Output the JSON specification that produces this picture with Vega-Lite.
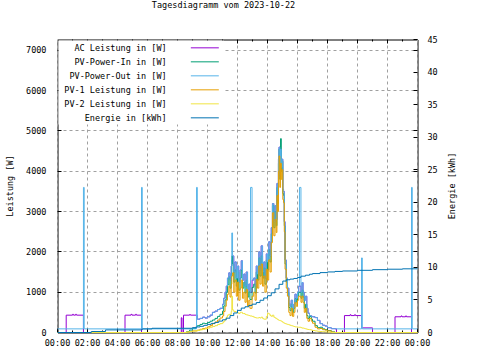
{
  "$schema": "https://vega.github.io/schema/vega-lite/v6.json",
  "width": 360,
  "height": 293,
  "autosize": {"type": "none"},
  "padding": {"left": 57.5, "top": 39.5, "right": 62.5, "bottom": 27.5},
  "background": "white",
  "title": {"text": "Tagesdiagramm vom 2023-10-22", "font": "DejaVu Sans Mono", "fontSize": 8.5, "fontWeight": "normal", "color": "black", "anchor": "middle", "frame": "group", "dx": -14, "offset": 22, "baseline": "middle"},
  "config": {
    "view": {"stroke": "black", "strokeWidth": 1},
    "font": "DejaVu Sans Mono",
    "axis": {"labelFont": "DejaVu Sans Mono", "labelFontSize": 8.5, "labelColor": "black", "titleFont": "DejaVu Sans Mono", "titleFontSize": 8.5, "titleFontWeight": "normal", "titleColor": "black", "domain": false, "tickColor": "black", "tickWidth": 1, "gridColor": "#a0a0a0", "gridDash": [3, 3], "gridWidth": 1, "translate": 0, "tickSize": -4, "labelOverlap": false, "labelFlush": false, "labelBound": false},
    "legend": {"orient": "none", "legendX": 1, "legendY": 1, "symbolType": "M-3,0H3", "symbolSize": 87, "symbolStrokeWidth": 1, "symbolOffset": 139, "labelAlign": "right", "labelOffset": -43.7, "labelFont": "DejaVu Sans Mono", "labelFontSize": 8.5, "labelColor": "black", "rowPadding": 4, "padding": 1.83, "fillColor": "white", "labelLimit": 0},
    "line": {"strokeWidth": 1, "interpolate": "step-after", "clip": true}
  },
  "data": {"values": [
    {"t": 0, "ac": 0, "pin": 0, "pout": 90, "pv1": 0, "pv2": 0, "e": 0},
    {"t": 0.58, "ac": 430},
    {"t": 1.0, "ac": 450},
    {"t": 1.07, "ac": 430},
    {"t": 1.2, "ac": 450},
    {"t": 1.27, "ac": 430},
    {"t": 1.73, "ac": 0, "pout": 3600},
    {"t": 1.78, "pout": 90},
    {"t": 2.25, "e": 0.15},
    {"t": 3.2, "e": 0.4},
    {"t": 4.5, "ac": 430},
    {"t": 4.9, "ac": 450},
    {"t": 4.97, "ac": 430},
    {"t": 5.2, "ac": 450},
    {"t": 5.27, "ac": 430},
    {"t": 5.6, "ac": 0, "pout": 3600},
    {"t": 5.65, "pout": 90, "e": 0.55},
    {"t": 6.3, "e": 0.65},
    {"t": 8.25, "ac": 365},
    {"t": 8.3, "ac": 0},
    {"t": 8.4, "ac": 430},
    {"t": 8.6, "pin": 20, "pv1": 10, "pv2": 10},
    {"t": 8.8, "pin": 60, "pv1": 25, "pv2": 25, "ac": 445},
    {"t": 8.87, "ac": 430},
    {"t": 9.0, "pin": 100, "pv1": 40, "pv2": 35, "e": 0.75},
    {"t": 9.25, "pin": 150, "e": 0.85},
    {"t": 9.27, "pout": 3600},
    {"t": 9.32, "ac": 330, "pout": 330, "pin": 170, "pv1": 60, "pv2": 50},
    {"t": 9.5, "ac": 350, "pout": 350, "pin": 200, "pv1": 80, "pv2": 65, "e": 0.95},
    {"t": 9.67, "ac": 380, "pout": 380, "pin": 230, "pv1": 100, "pv2": 80},
    {"t": 9.75, "e": 1.1},
    {"t": 9.83, "ac": 360, "pout": 360, "pin": 220, "pv1": 110, "pv2": 90},
    {"t": 10.0, "ac": 390, "pout": 390, "pin": 250, "pv1": 140, "pv2": 110, "e": 1.25},
    {"t": 10.17, "ac": 430, "pout": 430, "pin": 280, "pv1": 170, "pv2": 130},
    {"t": 10.25, "e": 1.4},
    {"t": 10.33, "ac": 500, "pout": 500, "pin": 310, "pv1": 220, "pv2": 150},
    {"t": 10.5, "ac": 530, "pout": 530, "pin": 350, "pv1": 260, "pv2": 170, "e": 1.55},
    {"t": 10.67, "ac": 570, "pout": 570, "pin": 400, "pv1": 310, "pv2": 200},
    {"t": 10.75, "e": 1.75},
    {"t": 10.83, "ac": 600, "pout": 600, "pin": 450, "pv1": 360, "pv2": 220},
    {"t": 11.0, "ac": 700, "pout": 700, "pin": 530, "pv1": 410, "pv2": 240, "e": 1.95},
    {"t": 11.08, "ac": 850, "pout": 850, "pin": 660, "pv1": 520, "pv2": 280},
    {"t": 11.17, "ac": 1000, "pout": 1000, "pin": 810, "pv1": 650, "pv2": 330},
    {"t": 11.25, "ac": 1150, "pout": 1150, "pin": 1000, "pv1": 800, "pv2": 380, "e": 2.2},
    {"t": 11.33, "ac": 1350, "pout": 1350, "pin": 1180, "pv1": 950, "pv2": 430},
    {"t": 11.42, "ac": 1480, "pout": 1480, "pin": 1380, "pv1": 1150, "pv2": 450},
    {"t": 11.5, "ac": 1300, "pout": 1300, "pin": 1100, "pv1": 880, "pv2": 450, "e": 2.6},
    {"t": 11.58, "ac": 1650, "pout": 1650, "pin": 1450, "pv1": 1200, "pv2": 520},
    {"t": 11.62, "ac": 1800, "pout": 2470, "pin": 1900, "pv1": 1400, "pv2": 900},
    {"t": 11.67, "ac": 1900, "pout": 1900, "pin": 1700, "pv1": 1480, "pv2": 560},
    {"t": 11.75, "ac": 1500, "pout": 1500, "pin": 1250, "pv1": 1000, "pv2": 520, "e": 3.0},
    {"t": 11.83, "ac": 1750, "pout": 1750, "pin": 1550, "pv1": 1300, "pv2": 520},
    {"t": 11.92, "ac": 1350, "pout": 1350, "pin": 1150, "pv1": 900, "pv2": 500},
    {"t": 12.0, "ac": 1650, "pout": 1650, "pin": 1500, "pv1": 1250, "pv2": 490, "e": 3.4},
    {"t": 12.08, "ac": 1250, "pout": 1250, "pin": 1050, "pv1": 800, "pv2": 470},
    {"t": 12.17, "ac": 1550, "pout": 1550, "pin": 1350, "pv1": 1100, "pv2": 500},
    {"t": 12.25, "ac": 1780, "pout": 1780, "pin": 1550, "pv1": 1300, "pv2": 500, "e": 3.75},
    {"t": 12.33, "ac": 1300, "pout": 1300, "pin": 1100, "pv1": 850, "pv2": 470},
    {"t": 12.42, "ac": 1450, "pout": 1450, "pin": 1250, "pv1": 1000, "pv2": 470},
    {"t": 12.5, "ac": 1150, "pout": 1150, "pin": 980, "pv1": 750, "pv2": 450, "e": 3.95},
    {"t": 12.58, "ac": 1500, "pout": 1500, "pin": 1300, "pv1": 1070, "pv2": 440},
    {"t": 12.67, "ac": 1050, "pout": 1050, "pin": 880, "pv1": 650, "pv2": 430},
    {"t": 12.75, "ac": 1200, "pout": 1200, "pin": 1020, "pv1": 800, "pv2": 420, "e": 4.15},
    {"t": 12.83, "ac": 1000, "pout": 1000, "pin": 820, "pv1": 600, "pv2": 410},
    {"t": 12.87, "pout": 3600},
    {"t": 12.97, "ac": 1300, "pout": 1300, "pin": 1120, "pv1": 900, "pv2": 400, "e": 4.35},
    {"t": 13.08, "ac": 1350, "pout": 1350, "pin": 1200, "pv1": 1000, "pv2": 380},
    {"t": 13.17, "ac": 1150, "pout": 1150, "pin": 980, "pv1": 800, "pv2": 370},
    {"t": 13.25, "ac": 1650, "pout": 1650, "pin": 1500, "pv1": 1320, "pv2": 360, "e": 4.6},
    {"t": 13.33, "ac": 1450, "pout": 1450, "pin": 1300, "pv1": 1100, "pv2": 360},
    {"t": 13.42, "ac": 2000, "pout": 2000, "pin": 1850, "pv1": 1650, "pv2": 370},
    {"t": 13.5, "ac": 1550, "pout": 1550, "pin": 1400, "pv1": 1200, "pv2": 360, "e": 4.95},
    {"t": 13.58, "ac": 2150, "pout": 2150, "pin": 1900, "pv1": 1700, "pv2": 380},
    {"t": 13.67, "ac": 1500, "pout": 1500, "pin": 1350, "pv1": 1150, "pv2": 350},
    {"t": 13.75, "ac": 1750, "pout": 1750, "pin": 1600, "pv1": 1400, "pv2": 330, "e": 5.3},
    {"t": 13.83, "ac": 1350, "pout": 1350, "pin": 1200, "pv1": 1000, "pv2": 330},
    {"t": 13.92, "ac": 1950, "pout": 1950, "pin": 1800, "pv1": 1570, "pv2": 400},
    {"t": 14.0, "ac": 1750, "pout": 1750, "pin": 1550, "pv1": 1300, "pv2": 480, "e": 5.65},
    {"t": 14.08, "ac": 2250, "pout": 2250, "pin": 2050, "pv1": 1800, "pv2": 460},
    {"t": 14.17, "ac": 1900, "pout": 1900, "pin": 1750, "pv1": 1500, "pv2": 420},
    {"t": 14.25, "ac": 2600, "pout": 2600, "pin": 2450, "pv1": 2230, "pv2": 400, "e": 6.1},
    {"t": 14.33, "ac": 3200, "pout": 3200, "pin": 3150, "pv1": 2970, "pv2": 430},
    {"t": 14.42, "ac": 2750, "pout": 2750, "pin": 2600, "pv1": 2400, "pv2": 380},
    {"t": 14.5, "ac": 3150, "pout": 3150, "pin": 3000, "pv1": 2800, "pv2": 360, "e": 6.7},
    {"t": 14.58, "ac": 2800, "pout": 2800, "pin": 2650, "pv1": 2480, "pv2": 350},
    {"t": 14.63, "ac": 3700, "pout": 3700, "pin": 3600, "pv1": 3400, "pv2": 330},
    {"t": 14.68, "ac": 3300, "pout": 3300, "pin": 3200, "pv1": 3000, "pv2": 320},
    {"t": 14.73, "ac": 4300, "pout": 4300, "pin": 4200, "pv1": 4000, "pv2": 310},
    {"t": 14.77, "ac": 4600, "pout": 4600, "pin": 4550, "pv1": 4380, "pv2": 300, "e": 7.4},
    {"t": 14.82, "ac": 3900, "pout": 3900, "pin": 3800, "pv1": 3600, "pv2": 300},
    {"t": 14.87, "ac": 4550, "pout": 4550, "pin": 4810, "pv1": 4200, "pv2": 290},
    {"t": 14.92, "ac": 4100, "pout": 4100, "pin": 4000, "pv1": 3800, "pv2": 280},
    {"t": 14.97, "ac": 4300, "pout": 4300, "pin": 4250, "pv1": 4040, "pv2": 270},
    {"t": 15.02, "ac": 3550, "pout": 3550, "pin": 3450, "pv1": 3300, "pv2": 250, "e": 7.9},
    {"t": 15.07, "ac": 3500, "pout": 3500, "pin": 3400, "pv1": 3220, "pv2": 240},
    {"t": 15.12, "ac": 2750, "pout": 2750, "pin": 2650, "pv1": 2500, "pv2": 230},
    {"t": 15.17, "ac": 1800, "pout": 1800, "pin": 1700, "pv1": 1570, "pv2": 220},
    {"t": 15.25, "ac": 1350, "pout": 1350, "pin": 1250, "pv1": 1100, "pv2": 210, "e": 8.1},
    {"t": 15.33, "ac": 1100, "pout": 1100, "pin": 1000, "pv1": 900, "pv2": 200},
    {"t": 15.42, "ac": 720, "pout": 720, "pin": 620, "pv1": 500, "pv2": 190},
    {"t": 15.5, "ac": 650, "pout": 650, "pin": 540, "pv1": 420, "pv2": 180, "e": 8.2},
    {"t": 15.58, "ac": 800, "pout": 800, "pin": 700, "pv1": 600, "pv2": 170},
    {"t": 15.67, "ac": 600, "pout": 600, "pin": 500, "pv1": 400, "pv2": 160},
    {"t": 15.75, "ac": 700, "pout": 700, "pin": 600, "pv1": 500, "pv2": 150, "e": 8.3},
    {"t": 15.83, "ac": 950, "pout": 950, "pin": 840, "pv1": 740, "pv2": 140},
    {"t": 15.92, "ac": 850, "pout": 850, "pin": 750, "pv1": 650, "pv2": 140},
    {"t": 16.0, "ac": 1000, "pout": 1000, "pin": 900, "pv1": 800, "pv2": 130, "e": 8.45},
    {"t": 16.08, "ac": 1150, "pout": 1150, "pin": 1000, "pv1": 900, "pv2": 130},
    {"t": 16.13, "pout": 3600},
    {"t": 16.23, "ac": 1000, "pout": 1000, "pin": 850, "pv1": 750, "pv2": 120, "e": 8.65},
    {"t": 16.3, "ac": 1240, "pout": 1240, "pin": 1050, "pv1": 900, "pv2": 110},
    {"t": 16.37, "ac": 1000, "pout": 1000, "pin": 880, "pv1": 740, "pv2": 110},
    {"t": 16.45, "ac": 800, "pout": 800, "pin": 600, "pv1": 500, "pv2": 100},
    {"t": 16.53, "ac": 900, "pout": 900, "pin": 700, "pv1": 600, "pv2": 90, "e": 8.8},
    {"t": 16.62, "ac": 600, "pout": 600, "pin": 420, "pv1": 350, "pv2": 80},
    {"t": 16.7, "ac": 480, "pout": 480, "pin": 350, "pv1": 280, "pv2": 75},
    {"t": 16.8, "ac": 420, "pout": 420, "pin": 400, "pv1": 350, "pv2": 70, "e": 8.95},
    {"t": 16.92, "ac": 400, "pout": 400, "pin": 330, "pv1": 280, "pv2": 60},
    {"t": 17.0, "ac": 390, "pout": 390, "pin": 280, "pv1": 230, "pv2": 50, "e": 9.05},
    {"t": 17.17, "ac": 370, "pout": 370, "pin": 170, "pv1": 130, "pv2": 40},
    {"t": 17.33, "ac": 300, "pout": 300, "pin": 120, "pv1": 90, "pv2": 30},
    {"t": 17.5, "ac": 220, "pout": 220, "pin": 130, "pv1": 100, "pv2": 25, "e": 9.2},
    {"t": 17.67, "ac": 180, "pout": 180, "pin": 90, "pv1": 70, "pv2": 20},
    {"t": 17.83, "ac": 160, "pout": 160, "pin": 70, "pv1": 60, "pv2": 15},
    {"t": 18.0, "ac": 120, "pout": 120, "pin": 50, "pv1": 40, "pv2": 10, "e": 9.3},
    {"t": 18.25, "ac": 95, "pout": 95, "pin": 15, "pv1": 10, "pv2": 0},
    {"t": 18.5, "ac": 90, "pout": 90, "pin": 0, "pv1": 0, "pv2": 0, "e": 9.38},
    {"t": 18.6, "ac": 0},
    {"t": 19.0, "e": 9.45},
    {"t": 19.13, "ac": 420},
    {"t": 19.5, "ac": 440},
    {"t": 19.57, "ac": 420},
    {"t": 19.8, "ac": 440},
    {"t": 19.87, "ac": 420},
    {"t": 20.0, "e": 9.55},
    {"t": 20.27, "ac": 115, "pout": 1850},
    {"t": 20.32, "pout": 90},
    {"t": 21.0, "ac": 0, "e": 9.65},
    {"t": 22.0, "e": 9.72},
    {"t": 22.5, "ac": 390},
    {"t": 22.9, "ac": 410},
    {"t": 22.97, "ac": 390},
    {"t": 23.0, "e": 9.78},
    {"t": 23.2, "ac": 410},
    {"t": 23.27, "ac": 390},
    {"t": 23.6, "ac": 0, "pout": 3600},
    {"t": 23.65, "pout": 90},
    {"t": 24, "ac": 0, "pin": 0, "pout": 90, "pv1": 0, "pv2": 0, "e": 9.8}
  ]},
  "transform": [
    {"fold": ["ac", "pin", "pout", "pv1", "pv2", "e"], "as": ["s", "v"]},
    {"filter": "isValid(datum.v)"}
  ],
  "encoding": {
    "color": {
      "field": "s", "type": "nominal",
      "scale": {"domain": ["ac", "pin", "pout", "pv1", "pv2", "e"], "range": ["#9400d3", "#009e73", "#56b4e9", "#e69f00", "#f0e442", "#0072b2"]},
      "legend": {"title": null, "labelExpr": "datum.value === 'ac' ? 'AC Leistung in [W]' : datum.value === 'pin' ? 'PV-Power-In in [W]' : datum.value === 'pout' ? 'PV-Power-Out in [W]' : datum.value === 'pv1' ? 'PV-1 Leistung in [W]' : datum.value === 'pv2' ? 'PV-2 Leistung in [W]' : 'Energie in [kWh]'"}
    }
  },
  "layer": [
    {
      "layer": [
        {
          "transform": [{"filter": "datum.s === 'ac'"}],
          "mark": "line",
          "encoding": {
            "x": {"field": "t", "type": "quantitative", "scale": {"domain": [0, 24], "nice": false, "zero": false},
                  "axis": {"orient": "bottom", "values": [0, 2, 4, 6, 8, 10, 12, 14, 16, 18, 20, 22, 24], "grid": true, "title": null, "labelPadding": 10.5, "labelExpr": "(datum.value % 24 < 10 ? '0' : '') + (datum.value % 24) + ':00'"}},
            "y": {"field": "v", "type": "quantitative", "scale": {"domain": [0, 7270], "nice": false},
                  "axis": {"orient": "left", "values": [0, 1000, 2000, 3000, 4000, 5000, 6000, 7000], "format": "d", "grid": true, "title": "Leistung [W]", "titleX": -48, "titleY": 146.5, "titleAngle": -90, "titleAlign": "center", "titleBaseline": "middle", "labelPadding": 15}}
          }
        },
        {
          "transform": [{"filter": "datum.s === 'pin'"}],
          "mark": "line",
          "encoding": {
            "x": {"field": "t", "type": "quantitative", "scale": {"domain": [0, 24], "nice": false, "zero": false},
                  "axis": {"orient": "bottom", "values": [1, 3, 5, 7, 9, 11, 13, 15, 17, 19, 21, 23], "grid": false, "labels": false, "title": null, "tickSize": -2}},
            "y": {"field": "v", "type": "quantitative", "scale": {"domain": [0, 7270], "nice": false},
                  "axis": {"orient": "right", "values": [1000, 2000, 3000, 4000, 5000, 6000, 7000], "grid": false, "labels": false, "title": null}}
          }
        },
        {
          "transform": [{"filter": "datum.s === 'pout'"}],
          "mark": "line",
          "encoding": {
            "x": {"field": "t", "type": "quantitative", "scale": {"domain": [0, 24], "nice": false, "zero": false},
                  "axis": {"orient": "top", "values": [2, 4, 6, 8, 10, 12, 14, 16, 18, 20, 22], "grid": false, "labels": false, "title": null}},
            "y": {"field": "v", "type": "quantitative", "scale": {"domain": [0, 7270], "nice": false}, "axis": null}
          }
        },
        {
          "transform": [{"filter": "datum.s === 'pv1'"}],
          "mark": "line",
          "encoding": {
            "x": {"field": "t", "type": "quantitative", "scale": {"domain": [0, 24], "nice": false, "zero": false},
                  "axis": {"orient": "top", "values": [1, 3, 5, 7, 9, 11, 13, 15, 17, 19, 21, 23], "grid": false, "labels": false, "title": null, "tickSize": -2}},
            "y": {"field": "v", "type": "quantitative", "scale": {"domain": [0, 7270], "nice": false}, "axis": null}
          }
        },
        {
          "transform": [{"filter": "datum.s === 'pv2'"}],
          "mark": "line",
          "encoding": {
            "x": {"field": "t", "type": "quantitative", "scale": {"domain": [0, 24], "nice": false, "zero": false}, "axis": null},
            "y": {"field": "v", "type": "quantitative", "scale": {"domain": [0, 7270], "nice": false}, "axis": null}
          }
        }
      ],
      "resolve": {"axis": {"x": "independent", "y": "independent"}}
    },
    {
      "transform": [{"filter": "datum.s === 'e'"}],
      "mark": "line",
      "encoding": {
        "x": {"field": "t", "type": "quantitative", "scale": {"domain": [0, 24], "nice": false, "zero": false}, "axis": null},
        "y": {"field": "v", "type": "quantitative", "scale": {"domain": [0, 45], "nice": false},
              "axis": {"orient": "right", "values": [0, 5, 10, 15, 20, 25, 30, 35, 40, 45], "format": "d", "grid": false, "title": "Energie [kWh]", "titleX": 34, "titleY": 146.5, "titleAngle": -90, "titleAlign": "center", "titleBaseline": "middle", "labelPadding": 14}}
      }
    }
  ],
  "resolve": {"scale": {"y": "independent"}, "axis": {"x": "independent", "y": "independent"}}
}
